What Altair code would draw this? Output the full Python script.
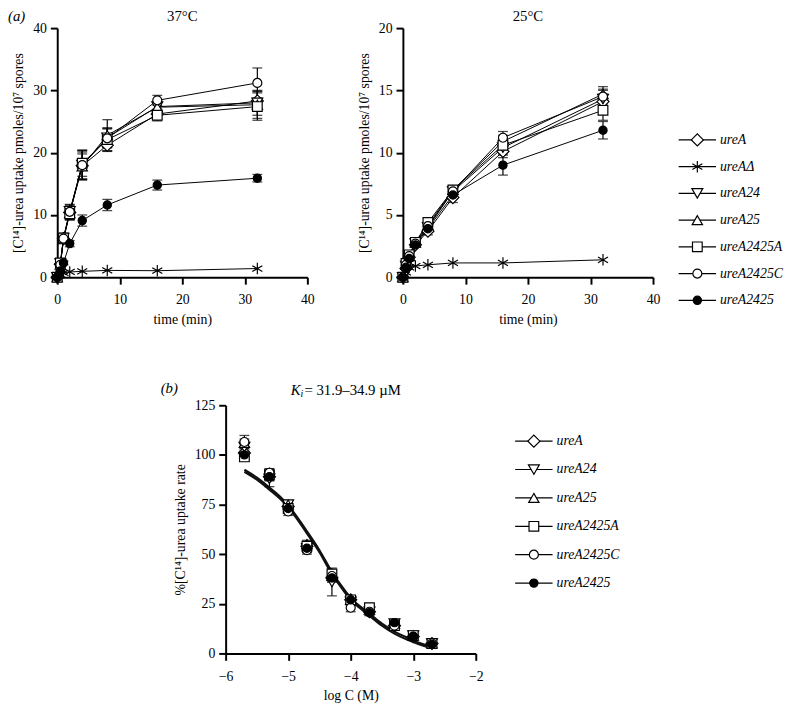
import altair as alt
import pandas as pd

FONT = "Liberation Serif"

# ---------------- data ----------------
series_a = ["ureA", "ureAΔ", "ureA24", "ureA25", "ureA2425A", "ureA2425C", "ureA2425"]
series_b = ["ureA", "ureA24", "ureA25", "ureA2425A", "ureA2425C", "ureA2425"]

ASTERISK = "M0,-1L0,1M-0.87,-0.5L0.87,0.5M-0.87,0.5L0.87,-0.5"
shape_range_a = ["diamond", ASTERISK, "triangle-down", "triangle-up", "square", "circle", "circle"]
fill_range_a = ["white", "black", "white", "white", "white", "white", "black"]
size_range_a = [150, 70, 110, 110, 130, 140, 130]

shape_range_b = ["diamond", "triangle-down", "triangle-up", "square", "circle", "circle"]
fill_range_b = ["transparent", "transparent", "transparent", "transparent", "transparent", "black"]
size_range_b = [150, 110, 110, 130, 140, 110]

times = [0, 0.5, 1, 2, 4, 8, 16, 32]

# 37 C : uptake (pmoles / 10^7 spores) and SD
v37_ureA      = [0, 2.1, 6.2, 10.4, 17.9, 21.2, 26.2, 28.3]
v37_ureAd     = [0, 0.4, 0.7, 0.85, 0.95, 1.1, 1.05, 1.4]
v37_ureA24    = [0, 2.2, 6.3, 10.6, 18.0, 22.4, 27.4, 28.0]
v37_ureA25    = [0, 2.0, 6.1, 10.3, 17.8, 22.8, 27.3, 27.7]
v37_ureA2425A = [0, 2.3, 6.3, 10.2, 18.3, 22.1, 26.0, 27.4]
v37_ureA2425C = [0, 2.0, 6.2, 10.5, 18.0, 22.3, 28.4, 31.2]
v37_ureA2425  = [0, 1.0, 2.3, 5.4, 9.1, 11.6, 14.8, 15.9]

e37_ureA      = [0, 0.3, 0.5, 1.0, 2.2, 1.0, 0.8, 1.5]
e37_ureAd     = [0, 0, 0, 0, 0, 0, 0, 0]
e37_ureA24    = [0, 0.3, 0.5, 1.0, 2.3, 1.6, 0.9, 2.0]
e37_ureA25    = [0, 0.3, 0.5, 1.1, 2.0, 2.5, 0.8, 2.2]
e37_ureA2425A = [0, 0.3, 0.5, 1.0, 2.1, 1.8, 0.9, 2.2]
e37_ureA2425C = [0, 0.3, 0.5, 1.2, 2.4, 1.5, 0.8, 2.4]
e37_ureA2425  = [0, 0.1, 0.3, 0.5, 0.9, 0.9, 0.8, 0.6]

# 25 C
v25_ureA      = [0, 0.7, 1.6, 2.6, 3.7, 6.4, 10.1, 14.1]
v25_ureAd     = [0, 0.4, 0.8, 0.9, 1.0, 1.15, 1.15, 1.4]
v25_ureA24    = [0, 0.9, 1.7, 2.7, 4.0, 6.9, 10.4, 14.3]
v25_ureA25    = [0, 1.0, 1.7, 2.8, 4.2, 7.0, 10.9, 14.7]
v25_ureA2425A = [0, 1.1, 1.8, 2.8, 4.4, 7.0, 10.6, 13.4]
v25_ureA2425C = [0, 1.0, 1.7, 2.7, 4.1, 6.9, 11.2, 14.5]
v25_ureA2425  = [0, 0.8, 1.5, 2.6, 3.9, 6.6, 9.0, 11.8]

e25_ureA      = [0, 0.1, 0.2, 0.2, 0.3, 0.4, 0.5, 0.6]
e25_ureAd     = [0, 0, 0, 0, 0, 0, 0, 0]
e25_ureA24    = [0, 0.1, 0.2, 0.2, 0.3, 0.4, 0.5, 0.7]
e25_ureA25    = [0, 0.1, 0.2, 0.2, 0.3, 0.3, 0.5, 0.6]
e25_ureA2425A = [0, 0.1, 0.2, 0.2, 0.3, 0.3, 0.5, 0.8]
e25_ureA2425C = [0, 0.1, 0.2, 0.2, 0.3, 0.3, 0.5, 0.6]
e25_ureA2425  = [0, 0.1, 0.2, 0.2, 0.3, 0.3, 0.8, 0.7]

# (b) inhibition: log concentration and % uptake rate
logc = [-5.7, -5.3, -5.0, -4.7, -4.3, -4.0, -3.7, -3.3, -3.0, -2.7]
b_ureA      = [101, 89, 74, 54, 38, 27, 21, 14, 8.5, 5]
b_ureA24    = [104, 88, 75, 53, 36, 26, 21, 15, 9, 5]
b_ureA25    = [106, 91, 75, 55, 39, 27, 22, 15, 9, 5]
b_ureA2425A = [99, 90, 73, 54, 40, 27, 23, 14, 9, 5]
b_ureA2425C = [106.5, 91, 71.5, 52, 39, 23, 21, 14, 8.5, 5]
b_ureA2425  = [100, 89, 73, 53, 38, 27, 20.5, 15.5, 8.5, 4.5]

eb_ureA      = [2, 2, 2, 2, 2, 2, 1.5, 1.5, 1, 1]
eb_ureA24    = [3, 4, 2, 2, 7, 2, 1.5, 1.5, 1, 1]
eb_ureA25    = [2, 2, 2, 2, 2, 2, 1.5, 1.5, 1, 1]
eb_ureA2425A = [2, 2, 2, 2, 2, 2, 1.5, 1.5, 1, 1]
eb_ureA2425C = [3.3, 2, 2, 2, 2, 2, 1.5, 1.5, 1, 1]
eb_ureA2425  = [2, 2, 2, 2, 2, 2, 1.5, 1.5, 1, 1]

# fitted curves
fit_x  = [-5.7, -5.5, -5.3, -5.1, -5.0, -4.9, -4.7, -4.5, -4.3, -4.1, -4.0, -3.8, -3.7, -3.5, -3.3, -3.1, -3.0, -2.85, -2.7]
fit_y1 = [92.5, 88.5, 83.5, 78, 74.5, 70.5, 61.5, 52, 41, 32, 28, 22.5, 20, 15, 11, 8, 6.5, 4.7, 3.3]
fit_y2 = [91.5, 87.5, 82.5, 77, 73.5, 69.5, 60.5, 51, 40, 31, 27, 21.5, 19, 14, 10, 7, 5.7, 4.0, 2.7]

vals37 = dict(zip(series_a, [v37_ureA, v37_ureAd, v37_ureA24, v37_ureA25, v37_ureA2425A, v37_ureA2425C, v37_ureA2425]))
errs37 = dict(zip(series_a, [e37_ureA, e37_ureAd, e37_ureA24, e37_ureA25, e37_ureA2425A, e37_ureA2425C, e37_ureA2425]))
vals25 = dict(zip(series_a, [v25_ureA, v25_ureAd, v25_ureA24, v25_ureA25, v25_ureA2425A, v25_ureA2425C, v25_ureA2425]))
errs25 = dict(zip(series_a, [e25_ureA, e25_ureAd, e25_ureA24, e25_ureA25, e25_ureA2425A, e25_ureA2425C, e25_ureA2425]))
valsb = dict(zip(series_b, [b_ureA, b_ureA24, b_ureA25, b_ureA2425A, b_ureA2425C, b_ureA2425]))
errsb = dict(zip(series_b, [eb_ureA, eb_ureA24, eb_ureA25, eb_ureA2425A, eb_ureA2425C, eb_ureA2425]))

YT_A = "[C¹⁴]-urea uptake pmoles/10⁷ spores"
YT_B = "%[C¹⁴]-urea uptake rate"


def label(text, x, y, size=15, style="italic", align="left"):
    return alt.Chart(pd.DataFrame({"t": [text]})).mark_text(
        font=FONT, fontSize=size, fontStyle=style, align=align, baseline="middle", color="black"
    ).encode(text="t:N", x=alt.value(x), y=alt.value(y))


def panel_a(vals, errs, ymax, title, extra=None):
    rows = []
    for s in series_a:
        for t, v, e in zip(times, vals[s], errs[s]):
            rows.append({"s": s, "t": t, "v": v, "lo": v - e, "hi": v + e, "e": e})
    df = pd.DataFrame(rows)
    base = alt.Chart(df)
    x = alt.X("t:Q", scale=alt.Scale(domain=[0, 40], nice=False),
              axis=alt.Axis(values=[0, 10, 20, 30, 40], title="time (min)"))
    y = alt.Y("v:Q", scale=alt.Scale(domain=[0, ymax], nice=False),
              axis=alt.Axis(values=list(range(0, ymax + 1, 5)), title=YT_A))
    lines = base.mark_line(color="black", strokeWidth=1).encode(x=x, y=y, detail="s:N")
    ebase = base.transform_filter("datum.e > 0")
    rules = ebase.mark_rule(color="black", strokeWidth=1.2).encode(x=x, y=alt.Y("lo:Q"), y2="hi:Q")
    cap1 = ebase.mark_tick(color="black", thickness=1.3, size=10, orient="horizontal").encode(x=x, y=alt.Y("lo:Q"))
    cap2 = ebase.mark_tick(color="black", thickness=1.3, size=10, orient="horizontal").encode(x=x, y=alt.Y("hi:Q"))
    pts = base.mark_point(filled=True, opacity=1, stroke="black", strokeWidth=1.2).encode(
        x=x, y=y,
        shape=alt.Shape("s:N", scale=alt.Scale(domain=series_a, range=shape_range_a), legend=None),
        fill=alt.Fill("s:N", scale=alt.Scale(domain=series_a, range=fill_range_a), legend=None),
        size=alt.Size("s:N", scale=alt.Scale(domain=series_a, range=size_range_a), legend=None),
    )
    layers = [lines, rules, cap1, cap2, pts, label(title, 127, -12, style="normal", align="center")]
    if extra is not None:
        layers += extra
    return alt.layer(*layers).properties(width=254, height=253)


def legend(series, shapes, fills, sizes, yr):
    df = pd.DataFrame({"s": series})
    base = alt.Chart(df)
    y = alt.Y("s:N", scale=alt.Scale(domain=series, range=yr), axis=None)
    rule = base.mark_rule(color="black", strokeWidth=1.2).encode(x=alt.value(0), x2=alt.value(38), y=y)
    pts = base.mark_point(filled=True, opacity=1, stroke="black", strokeWidth=1.2).encode(
        x=alt.value(19), y=y,
        shape=alt.Shape("s:N", scale=alt.Scale(domain=series, range=shapes), legend=None),
        fill=alt.Fill("s:N", scale=alt.Scale(domain=series, range=[f if f != "transparent" else "white" for f in fills]), legend=None),
        size=alt.Size("s:N", scale=alt.Scale(domain=series, range=sizes), legend=None),
    )
    txt = base.mark_text(align="left", baseline="middle", font=FONT, fontStyle="italic", fontSize=14, color="black").encode(
        x=alt.value(42), y=y, text="s:N")
    return alt.layer(rule, pts, txt).properties(width=100, height=253)


a1 = panel_a(vals37, errs37, 40, "37°C", extra=[label("(a)", -50, -12)])
a2 = panel_a(vals25, errs25, 20, "25°C")
# point scale keeps half a step of padding at each end: 7 entries, 27 px apart
leg_a = legend(series_a, shape_range_a, fill_range_a, size_range_a, [100, 290])

# ---- panel b ----
rows = []
for s in series_b:
    for xv, v, e in zip(logc, valsb[s], errsb[s]):
        rows.append({"s": s, "x": xv, "v": v, "lo": v - e, "hi": v + e})
dfb = pd.DataFrame(rows)
fit_rows = []
for xv, y1, y2 in zip(fit_x, fit_y1, fit_y2):
    fit_rows.append({"fit": "f1", "x": xv, "v": y1})
    fit_rows.append({"fit": "f2", "x": xv, "v": y2})
dff = pd.DataFrame(fit_rows)

xb = alt.X("x:Q", scale=alt.Scale(domain=[-6, -2], nice=False),
           axis=alt.Axis(values=[-6, -5, -4, -3, -2], title="log C (M)"))
yb = alt.Y("v:Q", scale=alt.Scale(domain=[0, 125], nice=False),
           axis=alt.Axis(values=[0, 25, 50, 75, 100, 125], title=YT_B))
bb = alt.Chart(dfb)
fit = alt.Chart(dff).mark_line(color="#111", strokeWidth=2.2, interpolate="monotone").encode(x=xb, y=yb, detail="fit:N")
brules = bb.mark_rule(color="black", strokeWidth=1.2).encode(x=xb, y=alt.Y("lo:Q"), y2="hi:Q")
bcap1 = bb.mark_tick(color="black", thickness=1.3, size=10, orient="horizontal").encode(x=xb, y=alt.Y("lo:Q"))
bcap2 = bb.mark_tick(color="black", thickness=1.3, size=10, orient="horizontal").encode(x=xb, y=alt.Y("hi:Q"))
bpts = bb.mark_point(filled=True, opacity=1, stroke="black", strokeWidth=1.2).encode(
    x=xb, y=yb,
    shape=alt.Shape("s:N", scale=alt.Scale(domain=series_b, range=shape_range_b), legend=None),
    fill=alt.Fill("s:N", scale=alt.Scale(domain=series_b, range=fill_range_b), legend=None),
    size=alt.Size("s:N", scale=alt.Scale(domain=series_b, range=size_range_b), legend=None),
)
b = alt.layer(
    fit, brules, bcap1, bcap2, bpts,
    label("(b)", -66, -17),
    label("K", 66, -15, size=15, style="italic"),
    label("i", 76, -11, size=10, style="italic"),
    label("= 31.9–34.9 µM", 80, -15, size=15, style="normal"),
).properties(width=254, height=252)

# 6 entries, ~29 px apart
leg_b = legend(series_b, shape_range_b, fill_range_b, size_range_b, [22, 195])

spacer = alt.Chart(pd.DataFrame({"a": [0]})).mark_rule(strokeOpacity=0).encode(
    x=alt.value(0), x2=alt.value(74), y=alt.value(0)).properties(width=74, height=252)

top = alt.hconcat(alt.hconcat(a1, a2, spacing=44), leg_a, spacing=18)
bottom = alt.hconcat(spacer, b, leg_b, spacing=31)

chart = alt.vconcat(top, bottom, spacing=56).properties(
    padding={"left": 0, "top": -4, "right": 0, "bottom": 0}
).configure_view(stroke=None).configure_axis(
    grid=False, domainColor="black", domainWidth=2, tickColor="black", tickWidth=2, tickSize=7,
    labelFont=FONT, labelFontSize=14, labelColor="black", labelPadding=4, labelFlush=False,
    titleFont=FONT, titleFontSize=14, titleFontWeight="normal", titleColor="black", titlePadding=7,
    labelOverlap=False,
).configure_axisX(labelPadding=9, titlePadding=6)

chart.save("out.html", embed_options={"renderer": "svg", "actions": False})
